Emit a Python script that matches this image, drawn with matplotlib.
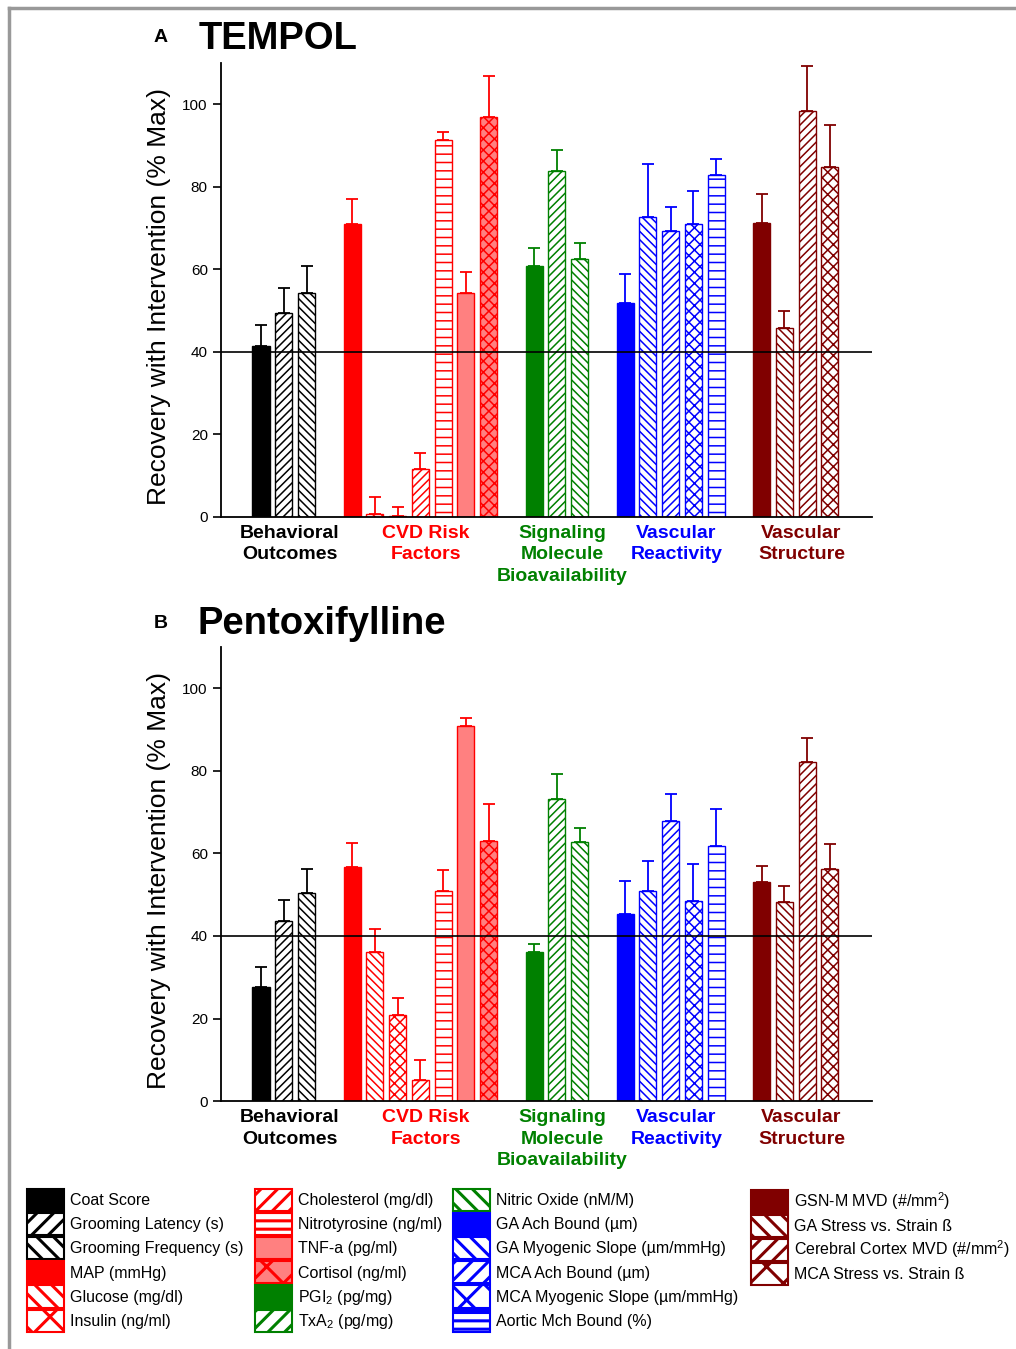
import matplotlib.pyplot as plt
from matplotlib.patches import Patch
from matplotlib.lines import Line2D

plt.rcParams['font.family'] = ['Liberation Sans', 'DejaVu Sans']
plt.rcParams['mathtext.fontset'] = 'custom'
plt.rcParams['mathtext.rm'] = 'Liberation Sans'
plt.rcParams['hatch.linewidth'] = 1.1

# Measures, in the order they are plotted
measures = ["Coat Score", "Grooming Latency (s)", "Grooming Frequency (s)",
            "MAP (mmHg)", "Glucose (mg/dl)", "Insulin (ng/ml)", "Cholesterol (mg/dl)",
            "Nitrotyrosine (ng/ml)", "TNF-a (pg/ml)", "Cortisol (ng/ml)",
            "PGI$_2$ (pg/mg)", "TxA$_2$ (pg/mg)", "Nitric Oxide (nM/M)",
            "GA Ach Bound (µm)", "GA Myogenic Slope (µm/mmHg)", "MCA Ach Bound (µm)",
            "MCA Myogenic Slope (µm/mmHg)", "Aortic Mch Bound (%)",
            "GSN-M MVD (#/mm$^2$)", "GA Stress vs. Strain ß",
            "Cerebral Cortex MVD (#/mm$^2$)", "MCA Stress vs. Strain ß"]
group_of = [0, 0, 0, 1, 1, 1, 1, 1, 1, 1, 2, 2, 2, 3, 3, 3, 3, 3, 4, 4, 4, 4]
groups = ["Behavioral\nOutcomes", "CVD Risk\nFactors", "Signaling\nMolecule\nBioavailability",
          "Vascular\nReactivity", "Vascular\nStructure"]
group_colors = ['#000000', '#ff0000', '#008000', '#0000ff', '#800000']

# Recovery with intervention (% max) and upper error (SEM)
tempol_mean = [41.5, 49.5, 54.3, 71.0, 0.7, 0.3, 11.6, 91.3, 54.3, 96.8, 60.7, 83.9, 62.5,
               51.9, 72.6, 69.2, 71.0, 82.8, 71.3, 45.9, 98.4, 84.9]
tempol_err = [4.9, 5.9, 6.4, 6.0, 4.1, 2.0, 3.9, 1.9, 5.0, 10.0, 4.4, 4.9, 3.9,
              7.0, 12.9, 5.9, 8.0, 3.9, 6.9, 3.9, 10.9, 10.0]
ptx_mean = [27.6, 43.6, 50.3, 56.7, 36.2, 20.9, 5.0, 50.9, 91.0, 63.0, 36.1, 73.2, 62.7,
            45.4, 50.8, 67.9, 48.4, 61.8, 53.1, 48.2, 82.1, 56.2]
ptx_err = [5.0, 5.0, 6.0, 5.9, 5.4, 4.0, 4.9, 5.0, 1.9, 8.9, 2.0, 6.0, 3.4,
           8.0, 7.4, 6.4, 9.0, 8.9, 3.8, 3.9, 5.9, 6.0]

# bar styles
hatches = ['', '////', '\\\\\\\\', '', '\\\\\\\\', 'xxx', '////', '--', '', 'xxx', '', '////', '\\\\\\\\',
           '', '\\\\\\\\', '////', 'xxx', '--', '', '\\\\\\\\', '////', 'xxx']
legend_hatch = {'': '', '////': '//', '\\\\\\\\': '\\\\', 'xxx': 'x', '--': '--'}
pink = '#ff8080'


def face(i):
    if measures[i].startswith('TNF') or measures[i].startswith('Cortisol'):
        return pink
    if hatches[i] == '':
        return group_colors[group_of[i]]
    return 'white'


xpos = [i + g for i, g in enumerate(group_of)]

fig = plt.figure(figsize=(10.16, 13.49), dpi=100)


def panel(bottom, mean, err):
    ax = fig.add_axes([0.2175, bottom, 0.641, 0.3365])
    for i in range(len(measures)):
        c = group_colors[group_of[i]]
        ax.errorbar(xpos[i], mean[i], yerr=[[0], [err[i]]], color=c, lw=1.3,
                    capsize=4.5, capthick=1.3, zorder=1)
        ax.bar(xpos[i], mean[i], width=0.75, color=face(i), edgecolor=c,
               hatch=hatches[i], linewidth=1.0, zorder=2)
    ax.axhline(40, color='black', lw=1.2, zorder=3)
    ax.set_xlim(-1.76, 26.86)
    ax.set_ylim(0, 110)
    ax.set_yticks([0, 20, 40, 60, 80, 100])
    ax.tick_params(axis='y', labelsize=11, length=6, width=1.2)
    ax.set_xticks([])
    for s in ['top', 'right']:
        ax.spines[s].set_visible(False)
    for s in ['left', 'bottom']:
        ax.spines[s].set_linewidth(1.3)
    ax.set_ylabel("Recovery with Intervention (% Max)", fontsize=19)
    ax.yaxis.set_label_coords(-0.077, 0.485)
    for g, name in enumerate(groups):
        xs = [xpos[i] for i in range(len(measures)) if group_of[i] == g]
        ax.text((min(xs) + max(xs)) / 2 + 0.25, -0.018, name, transform=ax.get_xaxis_transform(),
                ha='center', va='top', fontsize=14, fontweight='bold',
                color=group_colors[g], linespacing=1.33)
    return ax


panel(0.6168, tempol_mean, tempol_err)
panel(0.1838, ptx_mean, ptx_err)

fig.text(154 / 1016, 1 - 37 / 1349, 'A', fontsize=14, fontweight='bold', va='center')
fig.text(199 / 1016, 1 - 39 / 1349, 'TEMPOL', fontsize=27.5, fontweight='bold', va='center')
fig.text(154 / 1016, 1 - 623 / 1349, 'B', fontsize=14, fontweight='bold', va='center')
fig.text(197 / 1016, 1 - 624 / 1349, 'Pentoxifylline', fontsize=27.5, fontweight='bold', va='center')

# legend, four columns
columns = [range(0, 6), range(6, 12), range(12, 18), range(18, 22)]
col_x = [27, 255, 453, 751]
col_y = [1189, 1189, 1189, 1190]
for idx, cx, cy in zip(columns, col_x, col_y):
    handles = [Patch(facecolor=face(i), edgecolor=group_colors[group_of[i]],
                     hatch=legend_hatch[hatches[i]], linewidth=1.5) for i in idx]
    labels = [measures[i] for i in idx]
    leg = fig.legend(handles, labels, loc='upper left', bbox_to_anchor=(cx / 1016, 1 - cy / 1349),
                     frameon=False, fontsize=11.5, handlelength=2.3, handleheight=1.76,
                     labelspacing=0.12, handletextpad=0.42, borderpad=0, borderaxespad=0)
    for p in leg.get_patches():
        if hasattr(p, 'set_hatch_linewidth'):
            p.set_hatch_linewidth(2.2)

# grey frame at the top and left edge
fig.add_artist(Line2D([9 / 1016, 1], [1 - 7.5 / 1349, 1 - 7.5 / 1349],
                      transform=fig.transFigure, color='#999999', lw=2.5))
fig.add_artist(Line2D([9 / 1016, 9 / 1016], [0, 1 - 7.5 / 1349],
                      transform=fig.transFigure, color='#999999', lw=2.5))

fig.savefig('out.png', dpi=100)
